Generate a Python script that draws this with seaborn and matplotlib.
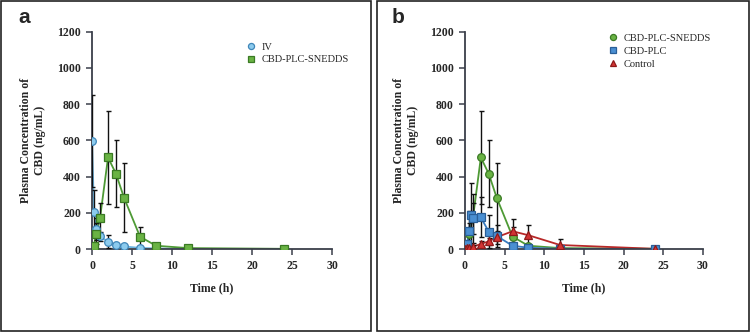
import numpy as np
import pandas as pd
import seaborn as sns
import matplotlib.pyplot as plt
from matplotlib.patches import Rectangle

sns.set_style("ticks")
plt.rcParams['font.family'] = ['Liberation Serif', 'DejaVu Serif']

# Tiempos de muestreo (h)
t_iv = [0, 0.25, 0.5, 1, 2, 3, 4, 6, 8, 12]
iv_mean = [595, 205, 110, 70, 40, 22, 14, 6, 3, 1]
iv_sd = [255, 120, 60, 25, 35, 8, 6, 3, 2, 1]

t_sn = [0, 0.25, 0.5, 1, 2, 3, 4, 6, 8, 12, 24]
sn_mean = [0, 18, 85, 170, 505, 415, 283, 68, 18, 5, 1]
sn_sd = [2, 10, 60, 85, 255, 185, 190, 55, 10, 3, 1]

t_plc = [0, 0.25, 0.5, 0.75, 1, 2, 3, 4, 6, 8, 12, 24]
plc_mean = [0, 25, 100, 185, 170, 175, 95, 72, 18, 7, 1, 0]
plc_sd = [2, 15, 110, 180, 135, 110, 90, 60, 15, 6, 2, 1]

t_ctl = [0, 0.25, 0.5, 1, 2, 3, 4, 6, 8, 12, 24]
ctl_mean = [0, 4, 8, 12, 28, 42, 65, 98, 76, 22, 1]
ctl_sd = [1, 3, 6, 10, 15, 20, 35, 70, 55, 35, 2]

series_a = [
    ("IV", t_iv, iv_mean, iv_sd, "o", "#8ccbee", "#3f86b8", "#6cb4e0"),
    ("CBD-PLC-SNEDDS", t_sn, sn_mean, sn_sd, "s", "#6ab344", "#3a7a24", "#4e9a35"),
]
series_b = [
    ("CBD-PLC-SNEDDS", t_sn, sn_mean, sn_sd, "o", "#6ab344", "#3a7a24", "#4e9a35"),
    ("CBD-PLC", t_plc, plc_mean, plc_sd, "s", "#4a8fd2", "#2a5f98", "#3a7cc0"),
    ("Control", t_ctl, ctl_mean, ctl_sd, "^", "#d23434", "#8e1a1a", "#b82828"),
]

fig = plt.figure(figsize=(7.5, 3.32), dpi=100)

# marcos de cada panel
fig.patches.append(Rectangle((0.001, 0.003), 0.494, 0.994, transform=fig.transFigure,
                             fill=False, edgecolor='#222222', linewidth=1.2))
fig.patches.append(Rectangle((0.502, 0.003), 0.496, 0.994, transform=fig.transFigure,
                             fill=False, edgecolor='#222222', linewidth=1.2))

ax_a = fig.add_axes([0.1227, 0.25, 0.32, 0.655])
ax_b = fig.add_axes([0.62, 0.25, 0.317, 0.655])

def dibujar(ax, series, leg_anchor):
    for nombre, t, m, sd, mk, fc, ec, lc in series:
        df = pd.DataFrame({'t': t, 'c': m})
        sns.lineplot(data=df, x='t', y='c', ax=ax, color=lc, linewidth=1.3,
                     marker=None, legend=False, zorder=2)
        ax.errorbar(t, m, yerr=sd, fmt='none', ecolor='#111111', elinewidth=1,
                    capsize=1.8, capthick=1, zorder=3)
        ax.plot(t, m, linestyle='none', marker=mk, markersize=5.5,
                markerfacecolor=fc, markeredgecolor=ec, markeredgewidth=0.9,
                label=nombre, zorder=4)
    ax.set_xlim(0, 30)
    ax.set_ylim(0, 1200)
    ax.set_xticks(range(0, 31, 5))
    ax.set_yticks(range(0, 1201, 200))
    for s in ['top', 'right']:
        ax.spines[s].set_visible(False)
    for s in ['left', 'bottom']:
        ax.spines[s].set_color('#3a3f4a')
        ax.spines[s].set_linewidth(1.3)
    ax.tick_params(axis='both', direction='out', length=4, width=1.1,
                   color='#3a3f4a', labelsize=8.5, pad=4)
    for lab in ax.get_xticklabels() + ax.get_yticklabels():
        lab.set_fontweight('bold')
    ax.set_xlabel('Time (h)', fontsize=8.5, fontweight='bold', labelpad=7)
    ax.set_ylabel('Plasma Concentration of\nCBD (ng/mL)', fontsize=8.5,
                  fontweight='bold', labelpad=8)
    ax.legend(loc='upper left', bbox_to_anchor=leg_anchor, frameon=False,
              fontsize=7.5, handletextpad=0.4, labelspacing=0.35,
              handlelength=1.2, borderaxespad=0, markerscale=0.8)

dibujar(ax_a, series_a, (0.62, 0.97))
dibujar(ax_b, series_b, (0.58, 1.01))

fig.text(0.025, 0.93, 'a', fontsize=15, fontweight='bold', family='Liberation Sans')
fig.text(0.522, 0.93, 'b', fontsize=15, fontweight='bold', family='Liberation Sans')

fig.savefig('out.png', dpi=100)
